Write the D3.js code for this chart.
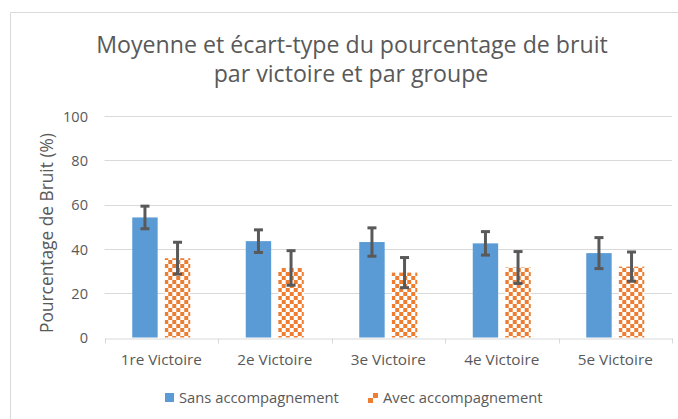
<!DOCTYPE html>
<html><head><meta charset="utf-8">
<script src="https://cdn.jsdelivr.net/npm/d3@7"></script>
<style>body{margin:0;background:#fff}svg{display:block}text{font-family:"Open Sans",sans-serif}</style>
</head><body>
<script>
const categories = ["1re Victoire","2e Victoire","3e Victoire","4e Victoire","5e Victoire"];
const seriesNames = ["Sans accompagnement","Avec accompagnement"];
const sansMean = [54.2, 43.5, 43.1, 42.5, 38.1];
const sansSD   = [5.1, 5.1, 6.4, 5.3, 7.0];
const avecMean = [35.8, 31.4, 29.3, 31.6, 32.0];
const avecSD   = [7.2, 7.8, 6.8, 7.2, 6.6];
const yTicks = [0, 20, 40, 60, 80, 100];
const titleLines = ["Moyenne et écart-type du pourcentage de bruit","par victoire et par groupe"];
const yLabel = "Pourcentage de Bruit (%)";

const W = 678, H = 419;
const svg = d3.select("body").append("svg").attr("width", W).attr("height", H);
const defs = svg.append("defs");
const pat = defs.append("pattern").attr("id","chk").attr("patternUnits","userSpaceOnUse")
  .attr("width",8).attr("height",8);
pat.append("rect").attr("width",8).attr("height",8).attr("fill","#fff");
pat.append("rect").attr("width",4).attr("height",4).attr("fill","#ED7D31");
pat.append("rect").attr("x",4).attr("y",4).attr("width",4).attr("height",4).attr("fill","#ED7D31");

// fit font size so a text node reaches a target width
function fit(sel, target, base) {
  sel.style("font-size", base + "px");
  const w = sel.node().getComputedTextLength();
  const fs = base * target / w;
  sel.style("font-size", fs + "px");
  return fs;
}

// outer frame
svg.append("path").attr("d","M678,12.5H10.5V419").attr("fill","none").attr("stroke","#d9d9d9").attr("stroke-width",1);

const x0 = d3.scaleBand().domain(categories).range([104.5, 672]).paddingInner(0).paddingOuter(0);
const groupW = 58;
const x1 = d3.scaleBand().domain(seriesNames).range([0, groupW]).paddingInner(0.22);
const y = d3.scaleLinear().domain([0, 100]).range([337.5, 116]);

// gridlines
svg.append("g").selectAll("line").data(yTicks.filter(d=>d>0)).join("line")
  .attr("x1",104.5).attr("x2",672).attr("y1",d=>Math.round(y(d))+0.5).attr("y2",d=>Math.round(y(d))+0.5)
  .attr("stroke","#d9d9d9").attr("stroke-width",1);

// y axis labels
const yAxis = d3.axisLeft(y).tickValues(yTicks).tickSize(0).tickPadding(0);
const gy = svg.append("g").attr("transform","translate(88,0)").call(yAxis);
gy.select(".domain").remove();
gy.selectAll("text").attr("fill","#595959").attr("font-family","Open Sans").attr("dy","0.36em");
const tickFs = fit(gy.selectAll("text").filter(d=>d===100), 25, 13);
gy.selectAll("text").style("font-size", tickFs + "px");

// x axis
const xAxis = d3.axisBottom(x0).tickSize(0).tickPadding(0);
const gx = svg.append("g").attr("transform","translate(0,"+(Math.round(y(0))+0.5)+")").call(xAxis);
gx.select(".domain").attr("stroke","#d9d9d9");
gx.selectAll("text").attr("fill","#595959").attr("font-family","Open Sans").attr("dy","0").attr("y",26);
const xFs = fit(gx.selectAll("text").filter(d=>d===categories[1]), 75, 13);
gx.selectAll("text").style("font-size", xFs + "px");
// tick marks at band boundaries
const bounds = categories.map(c=>x0(c)).concat([x0.range()[1]]);
gx.append("g").selectAll("line").data(bounds).join("line")
  .attr("x1",d=>Math.round(d)+0.5).attr("x2",d=>Math.round(d)+0.5).attr("y1",0).attr("y2",5)
  .attr("stroke","#d9d9d9");

const data = categories.map((c,i)=>({c, vals:[{s:seriesNames[0],m:sansMean[i],sd:sansSD[i]},{s:seriesNames[1],m:avecMean[i],sd:avecSD[i]}]}));
const fills = {[seriesNames[0]]:"#5B9BD5",[seriesNames[1]]:"url(#chk)"};

const groups = svg.append("g").selectAll("g").data(data).join("g")
  .attr("transform", d=>"translate("+(x0(d.c)+x0.bandwidth()/2-groupW/2)+",0)");
groups.selectAll("rect").data(d=>d.vals).join("rect")
  .attr("x", d=>x1(d.s)).attr("width", x1.bandwidth())
  .attr("y", d=>y(d.m)).attr("height", d=>y(0)-y(d.m))
  .attr("fill", d=>fills[d.s]);

// error bars
const eb = groups.selectAll("g.eb").data(d=>d.vals).join("g").attr("class","eb")
  .attr("transform", d=>"translate("+(x1(d.s)+x1.bandwidth()/2)+",0)");
const ec = "#595959";
eb.append("line").attr("x1",0).attr("x2",0).attr("y1",d=>y(d.m+d.sd)).attr("y2",d=>y(d.m-d.sd))
  .attr("stroke",ec).attr("stroke-width",3);
eb.append("line").attr("x1",-4.5).attr("x2",4.5).attr("y1",d=>y(d.m+d.sd)).attr("y2",d=>y(d.m+d.sd))
  .attr("stroke",ec).attr("stroke-width",3);
eb.append("line").attr("x1",-4.5).attr("x2",4.5).attr("y1",d=>y(d.m-d.sd)).attr("y2",d=>y(d.m-d.sd))
  .attr("stroke",ec).attr("stroke-width",3);

// title
const t1 = svg.append("text").attr("x",352).attr("y",53).attr("fill","#595959").attr("text-anchor","middle").text(titleLines[0]);
const tFs = fit(t1, 512, 21);
svg.append("text").attr("x",351).attr("y",82).attr("fill","#595959").attr("text-anchor","middle")
  .style("font-size", tFs + "px").text(titleLines[1]);

// y label
const yl = svg.append("text").attr("transform","translate(53,233) rotate(-90)").attr("text-anchor","middle")
  .attr("fill","#595959").text(yLabel);
fit(yl, 200, 13);

// legend
const leg = svg.append("g");
leg.append("rect").attr("x",165).attr("y",393).attr("width",9).attr("height",9).attr("fill","#5B9BD5");
const l1 = leg.append("text").attr("x",179).attr("y",403).attr("fill","#595959").text(seriesNames[0]);
const lFs = fit(l1, 160, 13);
leg.append("rect").attr("x",368).attr("y",398).attr("width",5).attr("height",5).attr("fill","#ED7D31");
leg.append("rect").attr("x",373).attr("y",393).attr("width",5).attr("height",5).attr("fill","#ED7D31");
leg.append("text").attr("x",383).attr("y",403).attr("fill","#595959").style("font-size", lFs + "px").text(seriesNames[1]);
</script>
</body></html>
